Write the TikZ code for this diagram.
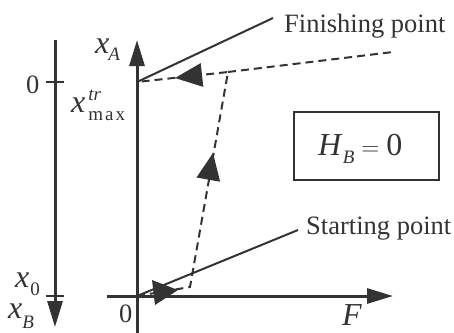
\documentclass[tikz,border=0pt]{standalone}
\usepackage{fontspec}
\setmainfont{Liberation Serif}
\usetikzlibrary{arrows.meta}
\definecolor{lc}{RGB}{51,51,51}
\newcommand{\mfontbig}{\fontsize{32}{36}\selectfont}
\newcommand{\mfontsmall}{\fontsize{19}{21}\selectfont}
\newcommand{\subl}[2]{\lower#1\hbox{\mfontsmall #2}}
\newcommand{\supl}[2]{\raise#1\hbox{\mfontsmall #2}}
\tikzset{
  axisline/.style={line width=3pt, draw=lc, -{Triangle[length=26pt,width=15pt]}},
  plainline/.style={line width=2pt, draw=lc},
  dashline/.style={line width=2pt, draw=lc, dash pattern=on 8pt off 5pt},
  headfill/.style={fill=lc},
  lbl/.style={text=lc, inner sep=0pt},
  mlbl/.style={text=lc, inner sep=0pt, font=\mfontbig},
  boxnode/.style={draw=lc, line width=2pt, minimum width=145pt, minimum height=68pt, text=lc, inner sep=0pt}
}
\begin{document}
\begin{tikzpicture}[x=1pt,y=-1pt,font=\fontsize{26.5}{30}\selectfont]
\useasboundingbox (0,0) rectangle (454,332);
% coordinates
\coordinate (O) at (137,296);
\coordinate (Ytop) at (137,40);
\coordinate (Ybot) at (137,333);
\coordinate (Xl) at (107,296);
\coordinate (Xr) at (393,296);
\coordinate (L1) at (55,40);
\coordinate (L2) at (55,327);
\coordinate (T0a) at (46,82);
\coordinate (T0b) at (64,82);
\coordinate (Txa) at (46,296);
\coordinate (Txb) at (64,296);
\coordinate (Q) at (137,82);
\coordinate (P1) at (190,287);
\coordinate (P2) at (228,72);
\coordinate (E) at (393,52);
\coordinate (F1) at (273,18);
\coordinate (S1) at (298,230);
% axes
\draw[axisline] (Ybot) -- (Ytop);
\draw[axisline] (Xl) -- (Xr);
\draw[axisline] (L1) -- (L2);
\draw[plainline] (T0a) -- (T0b);
\draw[plainline] (Txa) -- (Txb);
% solid lines
\draw[plainline] (Q) -- (F1);
\draw[plainline] (O) -- (S1);
% dashed path
\draw[dashline] (O) -- (P1) -- (P2) -- (Q);
\draw[dashline] (P2) -- (E);
% arrow heads
\fill[headfill] (175,78) -- (200.7,63.1) -- (203.3,86.9) -- cycle;
\fill[headfill] (213,153) -- (196.5,177.5) -- (220.1,181.7) -- cycle;
\fill[headfill] (178,290) -- (152,280) -- (155,305) -- cycle;
% labels
\node[mlbl, anchor=base west] (xA) at (95,53) {\textit{x}\kern-1pt\subl{7pt}{\textit{A}}};
\node[lbl, anchor=base west] (zero0) at (26,93) {0};
\node[mlbl, anchor=base west] (xmax) at (71,112) {\textit{x}\kern3pt\rlap{\supl{12pt}{\textit{tr}}}\subl{8pt}{m\kern2pt a\kern2pt x}};
\node[mlbl, anchor=base west] (x0) at (15,287) {\textit{x}\kern1pt\subl{8pt}{0}};
\node[mlbl, anchor=base west] (xB) at (8,318) {\textit{x}\kern0pt\subl{10pt}{\textit{B}}};
\node[lbl, anchor=base west] (zeroO) at (119,322) {0};
\node[mlbl, anchor=base west] (F) at (342,325) {\textit{F}};
\node[lbl, anchor=base west] (fin) at (284,32) {Finishing point};
\node[lbl, anchor=base west] (sta) at (306,234) {Starting point};
\node[boxnode] (hb) at (366.5,146) {};
\node[mlbl, anchor=base west] (hbt) at (318,155) {\textit{H}\subl{8pt}{\textit{B}}\kern7pt$=$\kern7pt0};
\end{tikzpicture}
\end{document}
